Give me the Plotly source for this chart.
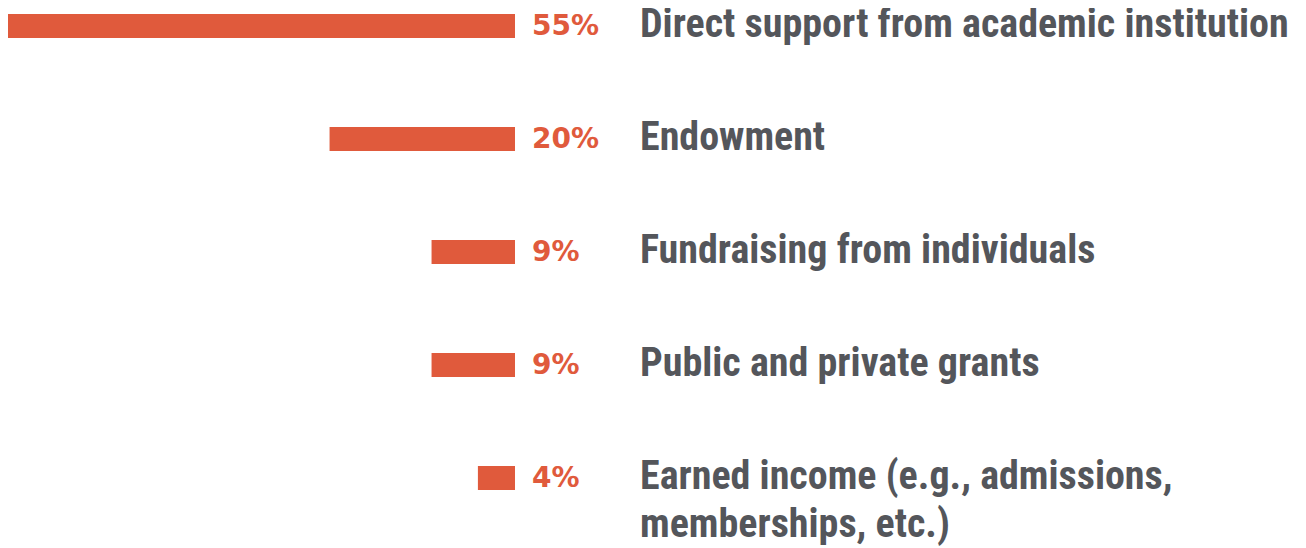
import plotly.graph_objects as go

categories = [
    "Direct support from academic institution",
    "Endowment",
    "Fundraising from individuals",
    "Public and private grants",
    "Earned income (e.g., admissions,<br>memberships, etc.)",
]
values = [55, 20, 9, 9, 4]
pct_labels = ["55%", "20%", "9%", "9%", "4%"]

BAR_COLOR = "#e05a3c"
TEXT_COLOR = "#54565b"
LINE_STEP = 48

fig = go.Figure(
    go.Bar(
        x=values,
        y=categories,
        orientation="h",
        marker=dict(color=BAR_COLOR, line=dict(width=0)),
        width=0.212,
        hoverinfo="skip",
    )
)

annotations = []
for cat, lab in zip(categories, pct_labels):
    annotations.append(dict(
        x=0, y=cat, xref="x", yref="y", text=lab, showarrow=False,
        xanchor="left", yanchor="middle", xshift=15, yshift=0,
        font=dict(family="DejaVu Sans", size=28, color=BAR_COLOR, weight="bold"),
    ))
    for i, line in enumerate(cat.split("<br>")):
        annotations.append(dict(
            x=0, y=cat, xref="x", yref="y", text=line, showarrow=False,
            xanchor="left", yanchor="middle", align="left",
            xshift=123, yshift=2 - LINE_STEP * i,
            font=dict(family="Roboto Condensed, Liberation Sans Narrow, DejaVu Sans Condensed, Roboto",
                      size=40, color=TEXT_COLOR, weight="bold"),
        ))

fig.update_layout(
    width=1298, height=540,
    margin=dict(l=0, r=791, t=0, b=0),
    paper_bgcolor="white", plot_bgcolor="white",
    showlegend=False,
    xaxis=dict(range=[54.68, 0], visible=False, fixedrange=True),
    yaxis=dict(type="category", range=[4.62, -0.159], visible=False,
               categoryorder="array", categoryarray=categories),
    annotations=annotations,
)

fig.write_html("out.html")
